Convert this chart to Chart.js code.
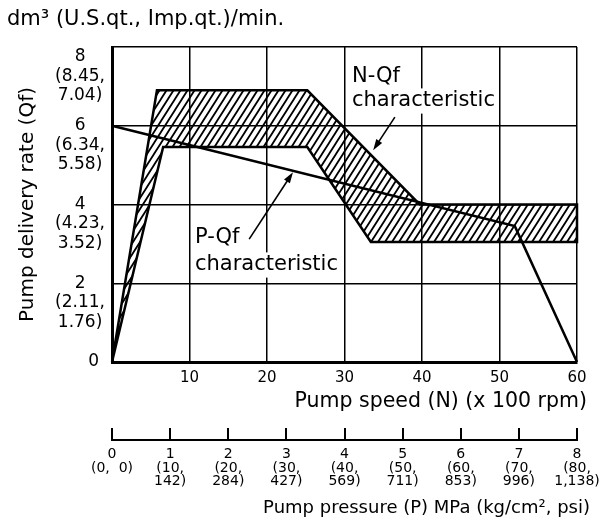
<!DOCTYPE html>
<html>
<head>
<meta charset="utf-8">
<script src="https://cdn.jsdelivr.net/npm/chart.js@4.4.1/dist/chart.umd.min.js"></script>
<style>
  html, body { margin: 0; padding: 0; background: #fff; }
</style>
</head>
<body>
<canvas id="pumpChart" width="603" height="528"></canvas>
<script>
// pump speed axis (x 100 rpm)
const speedTicks = [0, 10, 20, 30, 40, 50, 60];

// delivery rate axis: dm3/min, with US qt and Imp qt per min
const flowTicks = [0, 2, 4, 6, 8];
const flowUsQt = ['', '2.11', '4.23', '6.34', '8.45'];
const flowImpQt = ['', '1.76', '3.52', '5.58', '7.04'];

// pump pressure axis: MPa, with kg/cm2 and psi
const pressureTicks = [0, 1, 2, 3, 4, 5, 6, 7, 8];
const pressureKg = ['0', '10', '20', '30', '40', '50', '60', '70', '80'];
const pressurePsi = ['0', '142', '284', '427', '569', '711', '853', '996', '1,138'];

// N-Qf characteristic band outline (speed, delivery rate), closed
const bandSpeed = [0, 5.8, 25.2, 39.7, 60, 60, 33.4, 25.2, 6.6, 0];
const bandRate = [0, 6.9, 6.9, 4.0, 4.0, 3.05, 3.05, 5.46, 5.46, 0];

// P-Qf characteristic (pressure MPa, delivery rate)
const pqPressure = [0, 6.93, 8];
const pqRate = [6, 3.45, 0];

// leader arrows [tail speed, tail rate, tip speed, tip rate]
const nqArrow = [36.5, 6.22, 33.7, 5.38];
const pqArrow = [17.7, 3.12, 23.35, 4.82];

const FONT = "'DejaVu Sans', sans-serif";
Chart.defaults.font.family = FONT;
Chart.defaults.color = '#000';

function makeHatch() {
    const w = 7, h = 11;
    const c = document.createElement('canvas');
    c.width = w;
    c.height = h;
    const g = c.getContext('2d');
    g.strokeStyle = '#000';
    g.lineWidth = 1.8;
    g.beginPath();
    for (const dx of [-w, 0, w]) {
        g.moveTo(dx - w, 2 * h);
        g.lineTo(dx + 2 * w, -h);
    }
    g.stroke();
    return g.createPattern(c, 'repeat');
}

function drawArrow(ctx, x0, y0, x1, y1) {
    const ang = Math.atan2(y1 - y0, x1 - x0);
    const len = 11, half = 3.5;
    ctx.beginPath();
    ctx.moveTo(x0, y0);
    ctx.lineTo(x1 - Math.cos(ang) * len * 0.6, y1 - Math.sin(ang) * len * 0.6);
    ctx.stroke();
    ctx.beginPath();
    ctx.moveTo(x1, y1);
    ctx.lineTo(x1 - Math.cos(ang) * len + Math.sin(ang) * half, y1 - Math.sin(ang) * len - Math.cos(ang) * half);
    ctx.lineTo(x1 - Math.cos(ang) * len - Math.sin(ang) * half, y1 - Math.sin(ang) * len + Math.cos(ang) * half);
    ctx.closePath();
    ctx.fill();
}

function label(ctx, text, x, y, size, align, mask) {
    ctx.font = size + 'px ' + FONT;
    ctx.textAlign = align || 'left';
    ctx.textBaseline = 'middle';
    if (mask) {
        const w = ctx.measureText(text).width;
        const left = align === 'right' ? x - w : x;
        ctx.fillStyle = '#fff';
        ctx.fillRect(left - 2, y - size * 0.6, w + 4, size * 1.2);
    }
    ctx.fillStyle = '#000';
    ctx.fillText(text, x, y);
}

// y tick text: value, then the US qt and Imp qt equivalents below it
function flowLabel(v, i) {
    if (i === 0) return '     0';
    const lines = ['', '', String(flowTicks[i]), '(' + flowUsQt[i] + ',', flowImpQt[i] + ')'];
    // top label sits a little lower so it stays inside the figure
    if (i === flowTicks.length - 1) lines.unshift('');
    return lines;
}

// annotations, upward ticks on the pressure axis, axis captions
const overlay = {
    id: 'overlay',
    afterDatasetsDraw(chart) {
        const { ctx, scales } = chart;
        const { x, y, x2 } = scales;
        ctx.save();
        label(ctx, 'N-Qf', 352, 77, 21, 'left', true);
        label(ctx, 'characteristic', 352, 101, 21, 'left', true);
        label(ctx, 'P-Qf', 195, 238, 21, 'left', true);
        label(ctx, 'characteristic', 195, 265, 21, 'left', true);

        ctx.strokeStyle = '#000';
        ctx.fillStyle = '#000';
        ctx.lineWidth = 1.6;
        for (const a of [nqArrow, pqArrow]) {
            drawArrow(ctx, x.getPixelForValue(a[0]), y.getPixelForValue(a[1]),
                x.getPixelForValue(a[2]), y.getPixelForValue(a[3]));
        }

        ctx.lineWidth = 2;
        for (const v of pressureTicks) {
            const px = Math.round(x2.getPixelForValue(v));
            ctx.beginPath();
            ctx.moveTo(px, x2.top);
            ctx.lineTo(px, x2.top - 12);
            ctx.stroke();
        }

        label(ctx, 'dm\u00b3 (U.S.qt., Imp.qt.)/min.', 7, 20, 21, 'left');
        label(ctx, 'Pump speed (N) (x 100 rpm)', 587, 402, 20.5, 'right');
        label(ctx, 'Pump pressure (P) MPa (kg/cm\u00b2, psi)', 590, 508, 18, 'right');
        ctx.restore();
    }
};

const hatch = makeHatch();

new Chart(document.getElementById('pumpChart'), {
    type: 'scatter',
    data: {
        datasets: [
            {
                label: 'N-Qf characteristic',
                data: bandSpeed.map((s, i) => ({ x: s, y: bandRate[i] })),
                showLine: true,
                fill: 'shape',
                backgroundColor: hatch,
                borderColor: '#000',
                borderWidth: 2.5,
                pointRadius: 0,
                tension: 0,
                clip: 4,
                xAxisID: 'x',
                yAxisID: 'y'
            },
            {
                label: 'P-Qf characteristic',
                data: pqPressure.map((p, i) => ({ x: p, y: pqRate[i] })),
                showLine: true,
                fill: false,
                borderColor: '#000',
                borderWidth: 2.5,
                pointRadius: 0,
                tension: 0,
                clip: 4,
                xAxisID: 'x2',
                yAxisID: 'y'
            }
        ]
    },
    options: {
        responsive: false,
        animation: false,
        events: [],
        layout: { padding: { top: 47, right: 26, left: 0, bottom: 0 } },
        plugins: {
            legend: { display: false },
            tooltip: { enabled: false }
        },
        scales: {
            x: {
                type: 'linear',
                position: 'bottom',
                weight: 0,
                min: 0,
                max: 60,
                afterBuildTicks: s => { s.ticks = speedTicks.map(v => ({ value: v })); },
                ticks: {
                    callback: v => (v === 0 ? '' : String(v)),
                    padding: 7,
                    font: { size: 15, lineHeight: 1.2 },
                    color: '#000',
                    autoSkip: false,
                    maxRotation: 0
                },
                grid: { color: '#000', lineWidth: 1.5, drawTicks: false },
                border: { color: '#000', width: 3 },
                afterFit: s => { s.height = 78; s.paddingLeft = 0; s.paddingRight = 0; }
            },
            x2: {
                type: 'linear',
                position: 'bottom',
                weight: 1,
                min: 0,
                max: 8,
                afterBuildTicks: s => { s.ticks = pressureTicks.map(v => ({ value: v })); },
                ticks: {
                    callback: (v, i) => (i === 0
                        ? ['0', '(0,  0)']
                        : [String(pressureTicks[i]), '(' + pressureKg[i] + ',', pressurePsi[i] + ')']),
                    padding: 8,
                    font: { size: 14, lineHeight: 0.95 },
                    color: '#000',
                    autoSkip: false,
                    maxRotation: 0
                },
                grid: { display: false, drawOnChartArea: false, drawTicks: false },
                border: { color: '#000', width: 2 },
                afterFit: s => { s.height = 88; s.paddingLeft = 0; s.paddingRight = 0; }
            },
            y: {
                type: 'linear',
                min: 0,
                max: 8,
                afterBuildTicks: s => { s.ticks = flowTicks.map(v => ({ value: v })); },
                ticks: {
                    callback: flowLabel,
                    crossAlign: 'center',
                    padding: 7,
                    font: { size: 17, lineHeight: 1.15 },
                    color: '#000',
                    autoSkip: false
                },
                grid: { color: '#000', lineWidth: 1.5, drawTicks: false },
                border: { color: '#000', width: 3 },
                title: {
                    display: true,
                    text: 'Pump delivery rate (Qf)',
                    font: { size: 20 },
                    color: '#000',
                    padding: { top: 16, bottom: 0 }
                },
                afterFit: s => { s.width = 112; s.paddingTop = 0; s.paddingBottom = 0; }
            }
        }
    },
    plugins: [overlay]
});
</script>
</body>
</html>
